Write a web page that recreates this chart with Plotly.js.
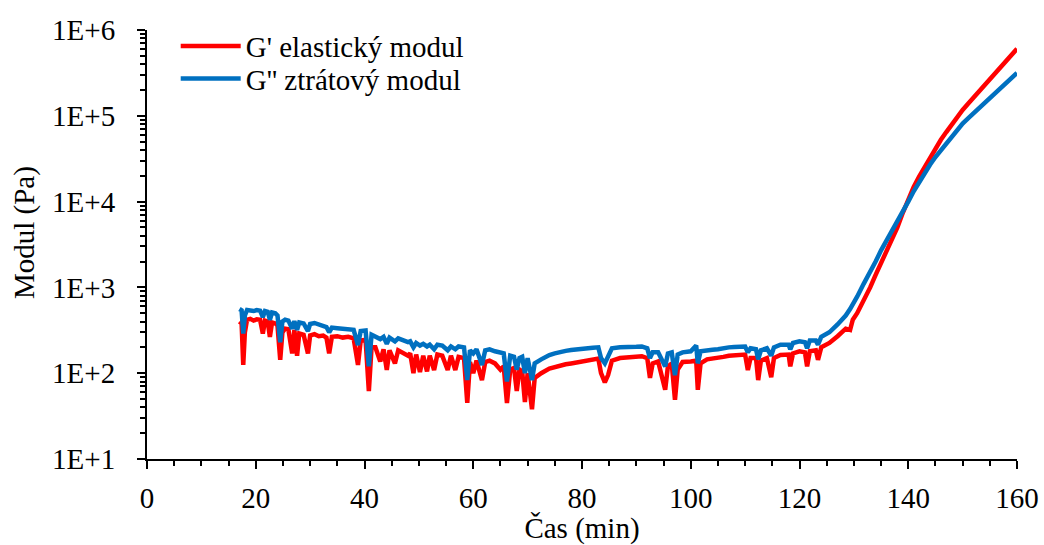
<!DOCTYPE html>
<html><head><meta charset="utf-8">
<script src="https://cdn.plot.ly/plotly-3.0.1.min.js"></script>
<style>html,body{margin:0;padding:0;background:#fff}#chart{width:1044px;height:545px}</style>
</head><body><div id="chart"></div>
<script>
const timeMin = [17.0,17.4,17.7,18.0,18.4,19.0,19.6,20.2,20.8,21.3,21.7,22.2,22.6,23.0,23.6,24.0,24.5,24.9,25.4,26.0,26.7,27.1,27.6,28.0,28.8,29.6,30.0,30.8,31.6,32.4,33.0,33.5,34.0,35.0,36.0,37.0,38.0,38.8,39.3,40.2,40.8,41.3,42.0,42.9,43.5,44.1,44.6,45.6,46.2,47.0,48.0,48.4,49.0,49.5,50.2,50.8,51.5,52.0,52.8,53.4,54.3,55.3,55.9,56.7,57.3,58.3,58.9,59.4,60.0,60.6,61.6,62.2,63.0,64.0,65.0,65.6,66.2,66.8,67.5,68.0,68.5,69.0,69.5,70.0,70.8,71.3,72.5,74.0,75.0,76.0,77.0,78.0,79.0,80.0,81.0,82.0,83.0,83.5,84.2,84.8,85.5,87.0,88.0,89.0,90.0,91.0,92.0,92.5,93.0,94.0,95.3,95.8,96.5,97.1,97.6,98.5,100.0,101.0,101.3,101.8,103.0,104.0,105.0,106.0,107.0,108.0,109.0,110.0,110.5,111.0,112.0,112.4,112.9,114.0,114.8,115.3,116.5,118.0,118.3,118.8,120.0,121.0,121.4,121.9,123.0,123.4,124.0,125.5,127.0,128.5,129.3,129.8,130.6,131.8,133.0,134.0,135.0,136.0,137.0,138.0,139.0,140.0,141.0,142.0,143.0,144.0,145.0,146.0,147.0,148.0,149.0,150.0,151.0,152.0,153.0,154.0,155.0,156.0,157.0,158.0,159.0,160.0];
const elasticModulus = [400,380,125,300,420,430,410,425,420,290,410,400,265,390,380,360,143,300,330,325,170,320,160,290,280,170,275,285,270,275,260,170,265,270,260,265,255,125,240,245,62,200,200,137,190,109,185,130,185,175,160,170,100,165,103,160,105,160,109,165,160,109,160,109,155,150,45,135,100,140,83,135,140,130,110,120,45,110,115,62,110,105,46,100,38,88,100,113,118,125,127,130,134,138,140,145,148,100,78,95,140,150,152,155,154,158,150,88,130,137,64,120,130,49,110,135,137,140,64,130,145,147,150,155,160,162,165,165,109,150,150,83,140,150,90,150,163,165,120,170,180,175,120,180,185,143,200,225,270,330,319,420,500,700,1000,1400,1900,2630,3630,5000,7400,10700,14800,19500,25100,32400,41700,52500,64600,79400,97700,117000,138000,162000,191000,224000,263000,309000,363000,427000,501000,603000];
const lossModulus = [560,540,290,470,545,540,530,545,535,450,530,520,420,510,500,470,230,400,420,410,330,405,320,390,380,310,375,385,370,365,345,300,340,335,330,330,320,213,310,315,120,280,270,250,265,220,260,235,255,240,230,235,200,225,210,220,205,215,190,215,210,185,205,190,205,200,83,185,170,190,125,185,190,180,175,170,80,160,155,110,150,155,100,150,83,130,145,163,170,178,182,186,190,195,196,198,200,150,130,160,195,200,203,205,203,205,195,150,175,175,120,170,175,95,165,175,180,210,130,180,186,188,190,196,200,202,205,205,175,195,190,145,185,195,160,200,215,215,190,225,235,230,195,240,240,215,265,300,370,470,560,650,780,1100,1480,2000,2700,3470,4470,5750,7400,10000,13200,17000,21400,26900,33100,39800,47900,57500,69200,81300,93300,107000,123000,141000,162000,186000,214000,245000,275000,316000];
const seriesNames = ["G' elastický modul", "G'' ztrátový modul"];
const seriesColors = ["#FF0000", "#0070C0"];
const yTickVals = [10, 100, 1000, 10000, 100000, 1000000];
const yTickText = ["1E+1", "1E+2", "1E+3", "1E+4", "1E+5", "1E+6"];
const xTickVals = [0, 20, 40, 60, 80, 100, 120, 140, 160];
const xTitle = "Čas (min)";
const yTitle = "Modul (Pa)";

const yMinor = [];
for (let e = 1; e < 6; e++) for (let k = 2; k <= 9; k++) yMinor.push(k * Math.pow(10, e));

const FONT = "Liberation Serif, Times New Roman, serif";
const traces = [
  {x: timeMin, y: elasticModulus, name: seriesNames[0], type: 'scatter', mode: 'lines', line: {color: seriesColors[0], width: 4.5}, legend: 'legend'},
  {x: timeMin, y: lossModulus, name: seriesNames[1], type: 'scatter', mode: 'lines', line: {color: seriesColors[1], width: 4.5}, legend: 'legend2'}
];
const legendBase = {xanchor: 'left', yanchor: 'top', bgcolor: 'rgba(0,0,0,0)', font: {family: FONT, size: 29, color: '#000'}, itemwidth: 60};
const layout = {
  width: 1044, height: 545,
  margin: {l: 147, r: 27, t: 30, b: 86},
  paper_bgcolor: '#fff', plot_bgcolor: '#fff',
  font: {family: FONT, size: 29, color: '#000'},
  showlegend: true,
  legend: Object.assign({x: 0.033, y: 1.022}, legendBase),
  legend2: Object.assign({x: 0.033, y: 0.946}, legendBase),
  xaxis: {
    range: [0, 160], tickmode: 'array', tickvals: xTickVals,
    showgrid: false, zeroline: false, showline: true, linecolor: '#000', linewidth: 2,
    ticks: 'outside', ticklen: 8, tickwidth: 2, tickcolor: '#000',
    minor: {dtick: 5, ticks: 'outside', ticklen: 5, tickwidth: 2, tickcolor: '#000', showgrid: false},
    tickfont: {family: FONT, size: 29}, ticklabelstandoff: 4,
    title: {text: xTitle, font: {family: FONT, size: 29}, standoff: 0}
  },
  yaxis: {
    type: 'log', range: [1, 6], tickmode: 'array', tickvals: yTickVals, ticktext: yTickText,
    showgrid: false, zeroline: false, showline: true, linecolor: '#000', linewidth: 2,
    ticks: 'outside', ticklen: 8, tickwidth: 2, tickcolor: '#000',
    minor: {tickmode: 'array', tickvals: yMinor, ticks: 'outside', ticklen: 5, tickwidth: 2, tickcolor: '#000', showgrid: false},
    tickfont: {family: FONT, size: 29}, ticklabelstandoff: 16
  },
  annotations: [{
    text: yTitle, xref: 'paper', yref: 'paper', x: -0.14, y: 0.527,
    xanchor: 'center', yanchor: 'middle', textangle: -90, showarrow: false,
    font: {family: FONT, size: 29, color: '#000'}
  }]
};
Plotly.newPlot('chart', traces, layout, {staticPlot: true, displayModeBar: false});
</script>
</body></html>
